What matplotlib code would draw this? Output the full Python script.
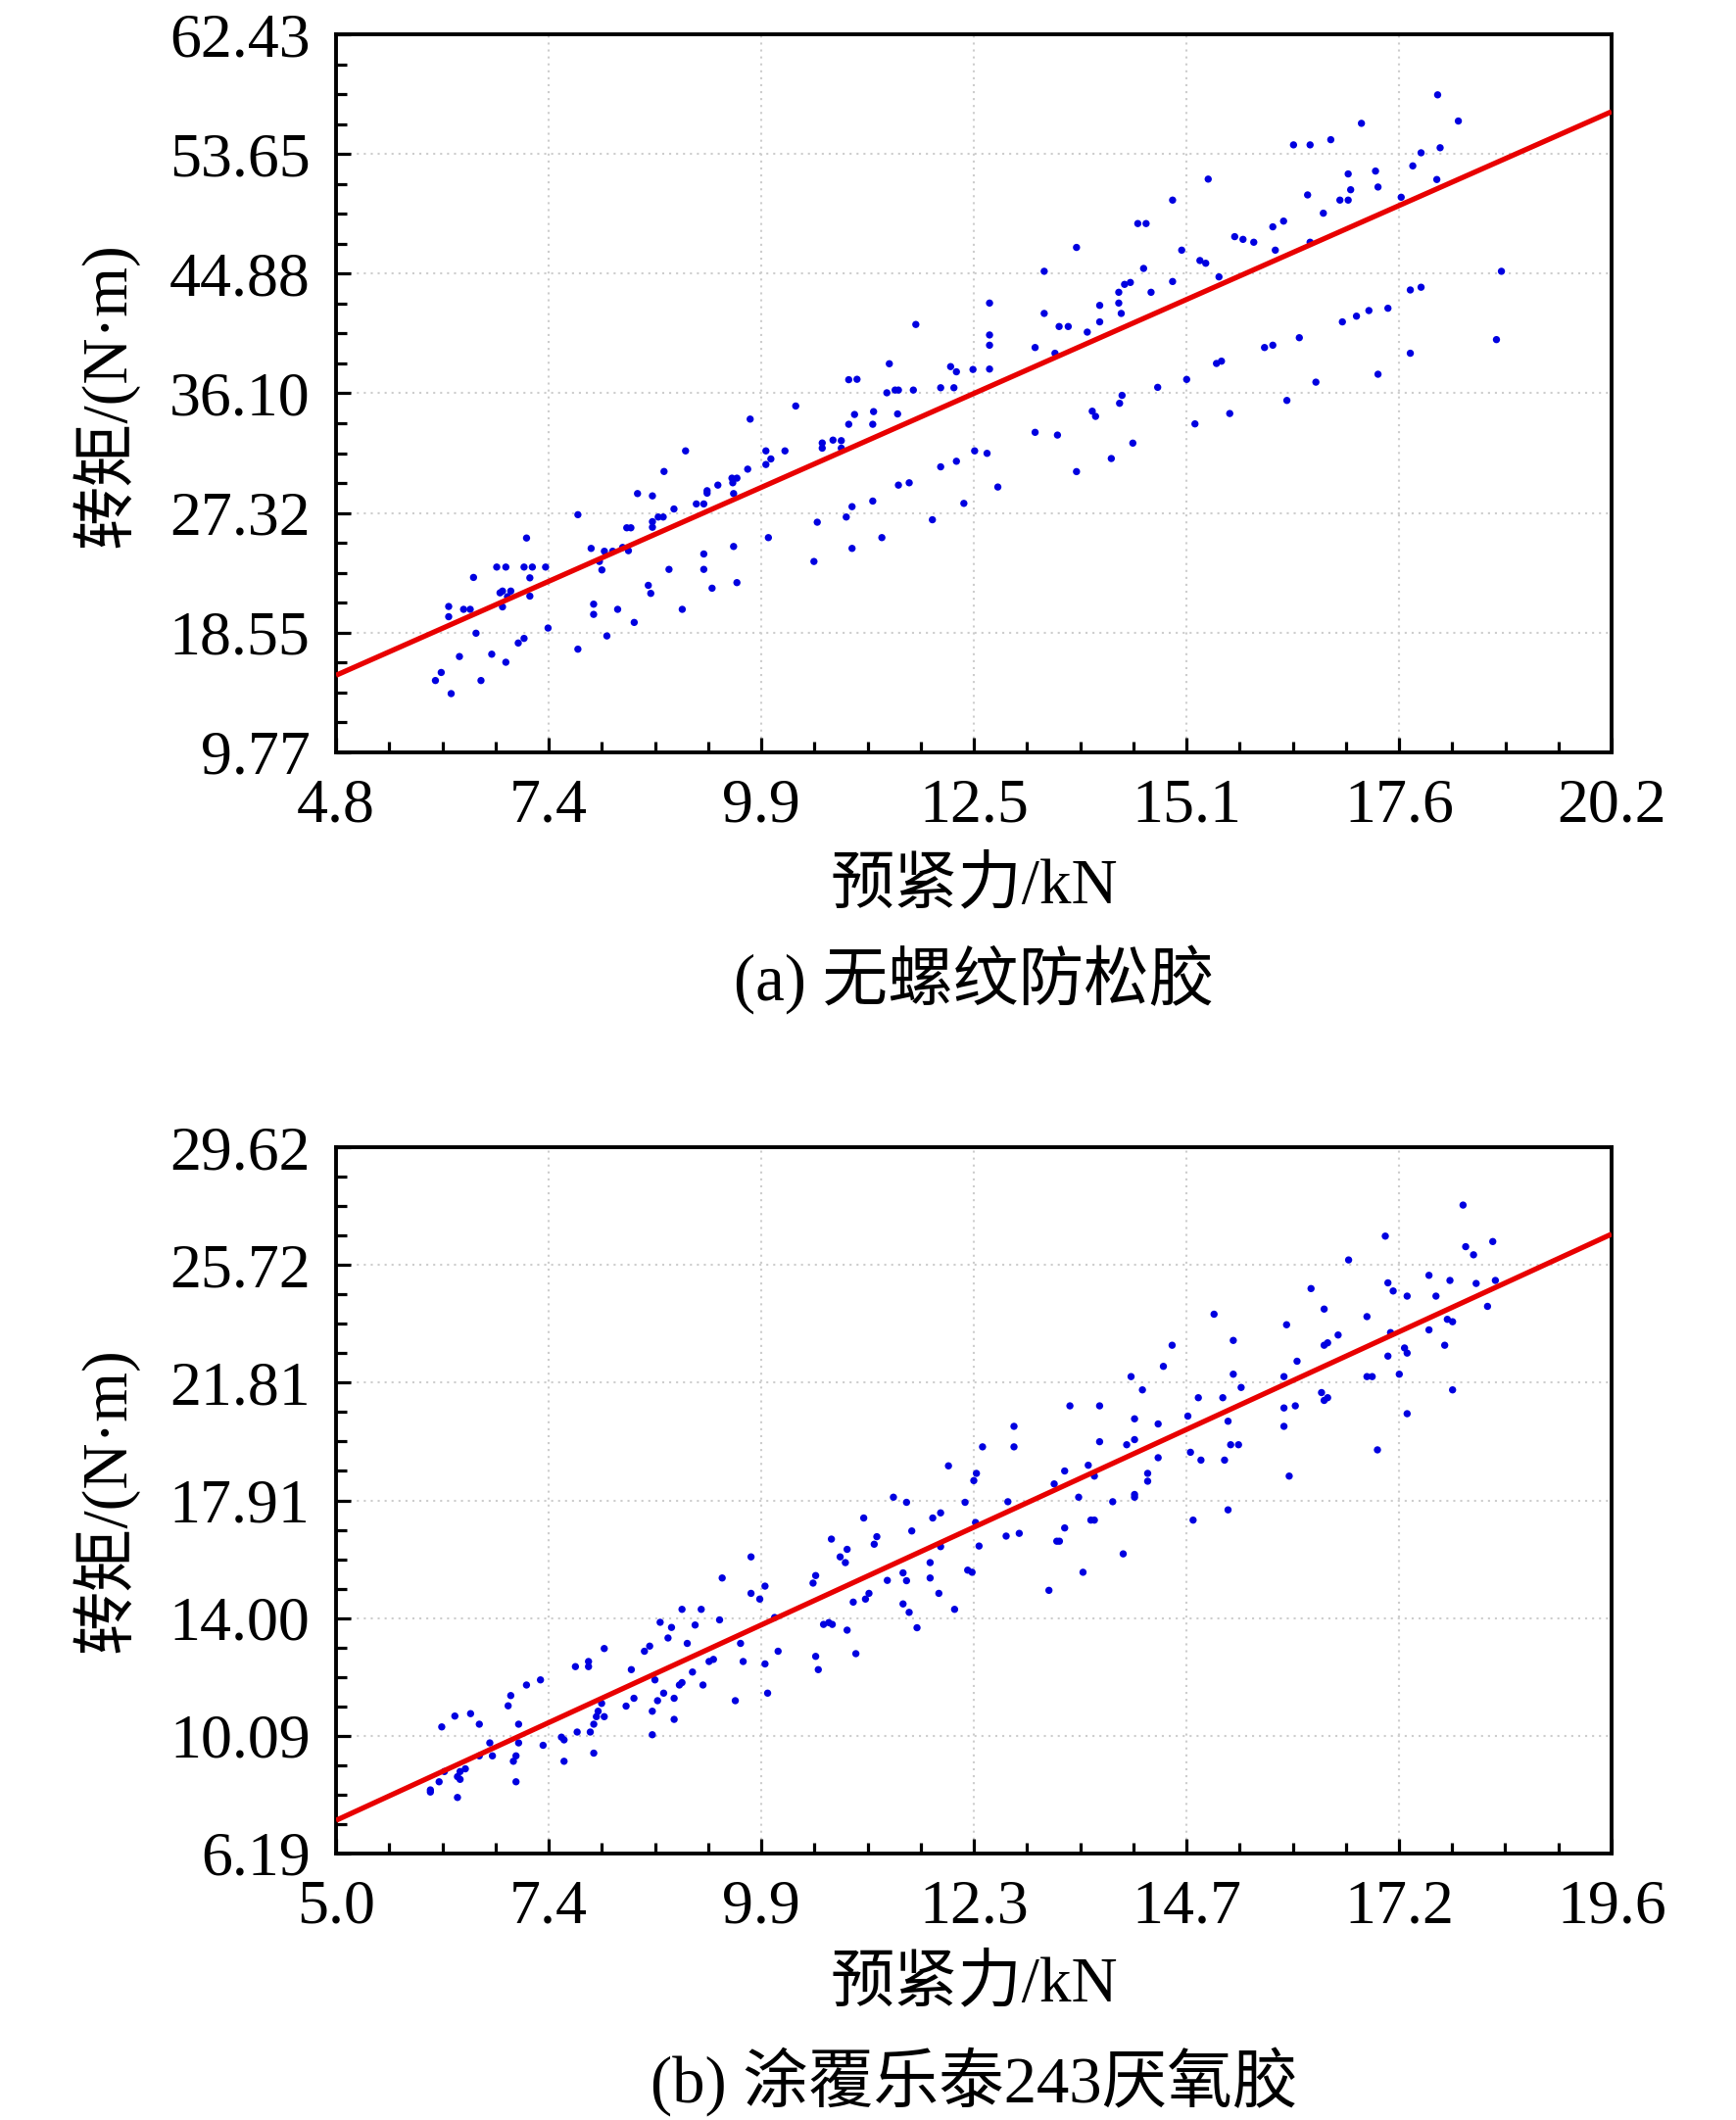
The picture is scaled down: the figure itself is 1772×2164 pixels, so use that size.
import numpy as np
import matplotlib
matplotlib.use("Agg")
import matplotlib.pyplot as plt
from matplotlib.ticker import AutoMinorLocator, FixedLocator, FixedFormatter

plt.rcParams['font.family'] = ['Liberation Serif', 'Noto Sans CJK SC']
plt.rcParams['axes.unicode_minus'] = False

# ---------------- Panel (a) data ----------------
force_a = [11.80, 11.48, 12.22, 12.29, 12.49, 10.99, 11.09, 11.45, 11.55, 11.59, 11.77, 12.10, 12.26,
           10.35, 9.80, 11.29, 11.06, 11.58, 10.99, 11.28, 10.67, 10.80, 10.90, 10.67, 10.90, 9.02,
           9.99, 10.22, 10.05, 9.99, 8.76, 9.77, 9.58, 9.64, 9.59, 9.41, 9.28, 9.28, 9.60, 8.44, 8.62,
           9.15, 9.24, 8.88, 7.72, 8.69, 8.75, 8.62, 8.62, 8.31, 8.36, 10.02, 7.10, 7.88, 8.04, 8.14,
           8.26, 8.33, 7.98, 8.01, 6.74, 6.85, 7.07, 7.17, 7.33, 6.46, 7.14, 6.78, 6.81, 6.87, 6.91,
           7.14, 6.16, 6.34, 6.42, 6.81, 6.16, 6.49, 7.07, 7.00, 6.29, 6.68, 6.85, 6.07, 6.00, 6.55,
           6.19, 7.36, 7.72, 7.91, 7.91, 8.07, 8.20, 8.40, 8.57, 8.60, 8.82, 8.98, 9.24, 9.24, 9.34,
           9.60, 9.64, 10.57, 10.61, 10.96, 11.03, 11.03, 11.28, 11.39, 11.59, 11.72, 12.00, 12.10,
           12.29, 12.38, 12.51,
           18.10, 18.35, 17.18, 16.36, 16.56, 16.81, 17.90, 17.80, 18.13, 17.35, 17.02, 15.33, 18.09,
           17.38, 17.05, 16.53, 17.66, 16.92, 17.02, 14.90, 16.72, 16.24, 14.48, 14.58, 16.11, 15.65,
           15.75, 15.88, 16.56, 13.74, 15.01, 16.14, 15.23, 15.30, 13.35, 14.55, 15.46, 14.90, 14.32,
           14.39, 14.25, 14.64, 12.69, 14.02, 14.25, 13.35, 14.28, 13.53, 13.64, 14.02, 12.69, 12.69,
           13.87, 13.24, 13.48, 12.69, 18.87, 17.77, 17.90, 17.50, 17.27, 17.12, 16.95, 16.43, 16.11,
           16.01, 18.81, 17.77, 15.43, 15.49, 17.38, 15.07, 16.63, 14.72, 14.29, 14.26, 16.28, 13.93,
           13.97, 15.59, 15.17, 13.24, 13.51, 14.42, 12.66, 14.16, 13.74, 12.79]
torque_a = [41.15, 38.27, 38.06, 37.68, 37.85, 37.10, 37.13, 36.14, 36.34, 36.34, 36.34, 36.51, 36.51,
            35.17, 34.21, 34.76, 34.55, 34.59, 33.83, 33.83, 32.46, 32.67, 32.63, 32.08, 32.08, 31.88,
            31.88, 31.88, 31.29, 30.88, 30.37, 30.54, 29.88, 29.88, 29.54, 29.37, 28.96, 28.78, 28.75,
            28.75, 28.58, 27.99, 27.99, 27.62, 27.20, 27.03, 27.03, 26.69, 26.28, 26.24, 26.24, 25.52,
            25.49, 24.73, 24.52, 24.52, 24.80, 24.56, 23.77, 23.15, 23.36, 23.36, 23.36, 23.36, 23.36,
            22.60, 22.57, 21.47, 21.60, 21.19, 21.60, 21.23, 20.47, 20.26, 20.26, 20.44, 19.72, 18.51,
            18.13, 17.79, 16.80, 16.97, 16.38, 15.63, 15.04, 15.04, 14.08, 18.89, 17.34, 20.64, 19.89,
            18.31, 20.26, 19.30, 22.02, 21.43, 23.19, 20.26, 24.32, 23.19, 21.81, 24.87, 22.22, 23.77,
            26.65, 27.03, 27.79, 24.73, 28.20, 25.52, 29.37, 29.54, 26.83, 30.71, 31.12, 28.03, 31.88,
            57.99, 56.07, 55.90, 54.32, 54.32, 54.70, 53.74, 52.78, 54.11, 52.40, 52.19, 51.81, 51.78,
            51.23, 51.03, 50.65, 50.48, 50.27, 50.27, 50.27, 49.31, 48.73, 48.55, 48.55, 48.31, 47.59,
            47.39, 47.18, 47.18, 46.80, 46.60, 46.60, 45.84, 45.64, 45.05, 45.26, 44.64, 44.30, 44.09,
            44.23, 43.51, 43.51, 42.72, 42.55, 42.72, 41.96, 41.96, 41.00, 41.00, 41.34, 40.38, 39.63,
            40.59, 39.46, 39.04, 37.88, 45.05, 43.68, 43.88, 42.34, 42.17, 41.76, 41.34, 40.18, 39.63,
            39.46, 40.04, 39.04, 38.29, 38.46, 37.50, 37.12, 36.92, 36.54, 35.95, 35.37, 35.58, 34.79,
            34.41, 34.62, 33.86, 33.24, 33.04, 32.45, 31.70, 31.32, 30.36, 29.23]
fit_a = (2.684, 2.54)          # slope, intercept of the fitted line
xlim_a = (4.8, 20.2)
ylim_a = (9.77, 62.43)
xticklabels_a = ['4.8', '7.4', '9.9', '12.5', '15.1', '17.6', '20.2']
yticklabels_a = ['9.77', '18.55', '27.32', '36.10', '44.88', '53.65', '62.43']
caption_a = '(a) 无螺纹防松胶'

# ---------------- Panel (b) data ----------------
force_b = [12.01, 11.38, 11.53, 12.20, 11.04, 11.83, 11.92, 11.59, 10.67, 11.19, 11.16, 10.85, 10.77,
           10.83, 9.75, 11.80, 11.92, 11.49, 11.53, 11.31, 11.80, 12.23, 10.49, 10.46, 9.42, 9.91,
           9.75, 9.85, 11.10, 11.06, 11.90, 10.92, 11.49, 11.56, 12.08, 8.96, 9.18, 9.39, 10.02, 10.58,
           10.64, 10.68, 8.71, 8.84, 9.11, 11.65, 10.85, 8.80, 9.02, 9.63, 8.07, 8.53, 8.59, 10.06,
           10.95, 10.49, 9.27, 9.32, 9.66, 9.91, 7.74, 7.89, 7.89, 8.38, 10.52, 9.08, 8.65, 7.34, 7.18,
           8.93, 8.96, 9.20, 9.94, 7.00, 8.75, 8.41, 8.87, 8.68, 9.57, 8.04, 6.97, 8.32, 8.62, 8.00,
           6.36, 6.54, 7.98, 8.07, 8.87, 6.64, 7.09, 7.95, 6.21, 7.76, 7.91, 8.62, 7.58, 7.61, 6.76,
           7.09, 7.37, 6.64, 6.79, 7.06, 7.03, 7.95, 7.61, 6.48, 6.42, 6.39, 6.42, 6.24, 6.18, 7.06,
           6.08, 6.08, 6.39,
           17.90, 17.01, 17.93, 18.02, 18.24, 16.59, 17.51, 17.75, 18.27, 17.04, 17.10, 18.05, 16.16,
           17.26, 17.59, 18.18, 16.31, 15.05, 16.80, 17.72, 17.78, 15.88, 17.51, 17.07, 16.47, 15.27,
           16.31, 16.35, 14.57, 17.69, 17.23, 17.26, 17.04, 16.00, 14.47, 15.27, 17.17, 14.10, 15.85,
           16.80, 16.86, 14.23, 15.36, 17.78, 16.28, 16.35, 16.31, 14.87, 15.15, 13.40, 13.74, 15.85,
           15.98, 14.75, 14.14, 15.21, 14.41, 17.26, 12.76, 15.85, 13.74, 14.05, 14.14, 15.24, 15.33,
           12.40, 12.76, 16.92, 14.78, 14.41, 14.90, 15.17, 13.61, 13.34, 12.33, 14.29, 14.29, 13.68,
           15.91, 12.30, 13.22, 13.50, 14.14, 14.14, 12.69, 13.89, 15.21, 13.64, 13.68, 14.81, 12.32,
           13.34, 12.67, 12.82, 13.25, 13.28, 12.36, 14.01, 12.28, 13.55, 13.16]
torque_b = [19.05, 18.01, 17.84, 17.84, 17.32, 17.32, 17.49, 16.89, 16.62, 16.70, 16.45, 16.28, 16.03,
            15.84, 16.03, 15.84, 16.37, 15.50, 15.24, 15.25, 15.33, 15.59, 15.41, 15.16, 15.33, 15.06,
            14.82, 14.63, 14.82, 14.63, 14.82, 14.53, 14.47, 14.19, 14.29, 14.29, 14.29, 13.94, 14.02,
            13.79, 13.85, 13.79, 13.86, 13.69, 13.77, 13.68, 13.60, 13.34, 13.16, 13.16, 12.99, 12.90,
            13.07, 12.90, 12.82, 12.73, 12.56, 12.63, 12.56, 12.48, 12.39, 12.56, 12.39, 12.29, 12.29,
            12.21, 11.95, 11.95, 11.78, 11.78, 11.86, 11.78, 11.51, 11.43, 11.51, 11.34, 11.34, 11.26,
            11.26, 11.17, 11.09, 11.08, 10.91, 10.91, 10.75, 10.83, 10.73, 10.73, 10.64, 10.48, 10.48,
            10.48, 10.39, 10.22, 10.22, 10.13, 10.05, 9.96, 9.86, 9.86, 9.78, 9.43, 9.43, 9.43, 9.25,
            9.52, 9.25, 9.00, 8.91, 8.74, 8.65, 8.91, 8.57, 8.57, 8.30, 8.23, 8.05,
            27.70, 26.67, 26.32, 26.05, 26.49, 25.88, 25.37, 25.20, 25.20, 25.12, 24.85, 25.10, 24.93,
            24.68, 24.68, 24.34, 24.25, 24.08, 24.00, 23.91, 23.83, 23.73, 23.56, 23.47, 23.39, 23.21,
            23.05, 23.13, 23.05, 23.05, 22.96, 22.79, 22.69, 22.52, 22.35, 22.09, 22.09, 22.01, 22.01,
            22.01, 22.01, 21.57, 21.65, 21.57, 21.48, 21.31, 21.22, 21.31, 21.31, 21.04, 21.04, 20.97,
            21.04, 20.70, 20.61, 20.53, 20.44, 20.78, 20.36, 20.36, 19.85, 19.75, 19.92, 19.75, 19.75,
            19.68, 19.68, 19.58, 19.50, 19.32, 19.24, 19.24, 19.07, 18.88, 18.80, 18.80, 18.54, 18.71,
            18.71, 18.56, 18.45, 18.01, 18.10, 18.01, 17.86, 17.86, 17.59, 17.25, 17.25, 17.25, 17.17,
            16.99, 16.72, 16.81, 16.55, 16.55, 16.39, 16.13, 15.52, 15.52, 14.92]
fit_b = (1.332, 0.63)
xlim_b = (5.0, 19.6)
ylim_b = (6.19, 29.62)
xticklabels_b = ['5.0', '7.4', '9.9', '12.3', '14.7', '17.2', '19.6']
yticklabels_b = ['6.19', '10.09', '14.00', '17.91', '21.81', '25.72', '29.62']
caption_b = '(b) 涂覆乐泰243厌氧胶'

xlabel_text = '预紧力/kN'
ylabel_text = '转矩/(N·m)'

W, H = 1772, 2164
fig = plt.figure(figsize=(W / 100, H / 100), dpi=100)


def make_panel(rect, fx, ty, fit, xlim, ylim, xtl, ytl):
    ax = fig.add_axes(rect)
    ax.set_xlim(*xlim)
    ax.set_ylim(*ylim)
    xt = np.linspace(xlim[0], xlim[1], len(xtl))
    yt = np.linspace(ylim[0], ylim[1], len(ytl))
    ax.xaxis.set_major_locator(FixedLocator(xt))
    ax.xaxis.set_major_formatter(FixedFormatter(xtl))
    ax.yaxis.set_major_locator(FixedLocator(yt))
    ax.yaxis.set_major_formatter(FixedFormatter(ytl))
    ax.xaxis.set_minor_locator(AutoMinorLocator(4))
    ax.yaxis.set_minor_locator(AutoMinorLocator(4))
    ax.tick_params(which='both', direction='in', top=False, right=False, width=2.3,
                   color='black')
    ax.tick_params(which='major', length=11, labelsize=46, pad=19)
    ax.tick_params(which='minor', length=8)
    for s in ax.spines.values():
        s.set_linewidth(2.8)
        s.set_color('black')
    ax.grid(True, which='major', linestyle=(0, (1.0, 2.4)), color='#cdcdcd', linewidth=1.5)
    ax.set_axisbelow(True)
    ax.scatter(fx, ty, s=28, c='#0000e0', edgecolors='none', zorder=3)
    xl = np.array(xlim)
    ax.plot(xl, fit[0] * xl + fit[1], color='#e80000', linewidth=3.8, zorder=4,
            solid_capstyle='butt')
    return ax


ax_a = make_panel([343 / W, 1 - 768 / H, 1302 / W, 733 / H], force_a, torque_a, fit_a,
                  xlim_a, ylim_a, xticklabels_a, yticklabels_a)
ax_b = make_panel([343 / W, 1 - 1892 / H, 1302 / W, 721 / H], force_b, torque_b, fit_b,
                  xlim_b, ylim_b, xticklabels_b, yticklabels_b)

# axis labels and captions
fig.text(107 / W, 1 - 403 / H, ylabel_text, rotation=90, ha='center', va='center', fontsize=47)
fig.text(107 / W, 1 - 1531 / H, ylabel_text, rotation=90, ha='center', va='center', fontsize=47)
fig.text(994 / W, 1 - 905 / H, xlabel_text, ha='center', va='center', fontsize=47)
fig.text(994 / W, 1 - 2026 / H, xlabel_text, ha='center', va='center', fontsize=47)
fig.text(994 / W, 1 - 1000 / H, caption_a, ha='center', va='center', fontsize=48)
fig.text(994 / W, 1 - 2125 / H, caption_b, ha='center', va='center', fontsize=48)

fig.savefig('out.png', dpi=100, facecolor='white')
